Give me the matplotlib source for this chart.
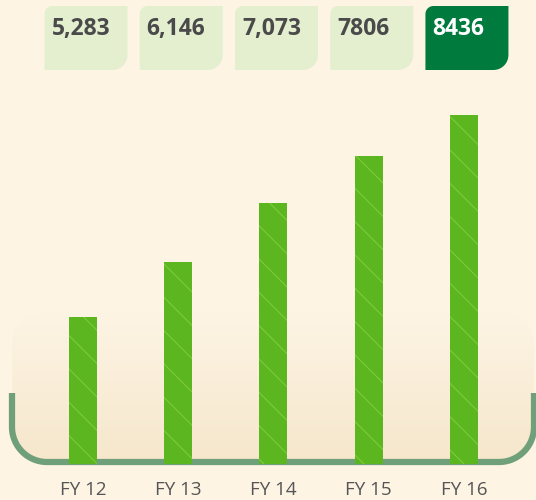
import numpy as np
import matplotlib.pyplot as plt
from matplotlib.path import Path
from matplotlib.patches import PathPatch, FancyBboxPatch

# Data
years = ['FY 12', 'FY 13', 'FY 14', 'FY 15', 'FY 16']
values = [5283, 6146, 7073, 7806, 8436]
value_labels = ['5,283', '6,146', '7,073', '7806', '8436']

# Colours
bg_color = '#FDF4E4'
panel_bottom = np.array([246, 231, 204]) / 255
panel_top = np.array([253, 244, 228]) / 255
border_color = '#70A07A'
bar_color = '#5BB620'
vein_color = '#7CCB3C'
box_light = '#E3EFCF'
box_dark = '#007A3D'
text_dark = '#4A4A4A'
tick_color = '#555555'

plt.rcParams['hatch.linewidth'] = 0.8

W, H = 536, 500
fig = plt.figure(figsize=(W / 100, H / 100), dpi=100, facecolor=bg_color)

# Background axes in pixel units (y grows downwards)
bg = fig.add_axes([0, 0, 1, 1], zorder=0)
bg.axis('off')

# Bar axes
ax = fig.add_axes([0.066, 0.072, 0.8884, 0.748], zorder=1)
ax.patch.set_alpha(0)
x = np.arange(len(years))
bars = ax.bar(x, values, width=0.294, color=bar_color, hatch='\\',
              edgecolor=vein_color, linewidth=0, zorder=3)
ax.set_xlim(-0.5, len(years) - 0.5)
ax.set_ylim(3000, 8828)
ax.set_yticks([])
ax.set_xticks(x)
ax.set_xticklabels(years, fontsize=13.5, color=tick_color, family='Open Sans')
ax.tick_params(axis='x', length=0, pad=12)
for s in ax.spines.values():
    s.set_visible(False)

# Gradient panel behind the bars
panel = FancyBboxPatch((12, 313), 522, 149,
                       boxstyle='round,pad=0,rounding_size=35',
                       facecolor='none', edgecolor='none')
bg.add_patch(panel)
grad = np.linspace(0, 1, 256)[:, None, None]
img = panel_top * (1 - grad) + panel_bottom * grad
im = bg.imshow(img, extent=(12, 534, 462, 313), aspect='auto', zorder=1)
im.set_clip_path(panel)
bg.set_xlim(0, W)
bg.set_ylim(H, 0)

# Rounded border line (left, bottom, right)
r = 35
t1 = np.linspace(np.pi, np.pi / 2, 30)
t2 = np.linspace(np.pi / 2, 0, 30)
left_arc = np.c_[12 + r + r * np.cos(t1), 462 - r + r * np.sin(t1)]
right_arc = np.c_[534 - r + r * np.cos(t2), 462 - r + r * np.sin(t2)]
pts = np.vstack([[12, 393], left_arc, right_arc, [534, 393]])
bg.plot(pts[:, 0], pts[:, 1], color=border_color, lw=4.5,
        solid_capstyle='butt', zorder=2)


def leaf_box(x0, y0, x1, y1, r1=8, r2=15):
    a1 = np.linspace(np.pi, 1.5 * np.pi, 12)
    a2 = np.linspace(0, 0.5 * np.pi, 12)
    tl = np.c_[x0 + r1 + r1 * np.cos(a1), y0 + r1 + r1 * np.sin(a1)]
    br = np.c_[x1 - r2 + r2 * np.cos(a2), y1 - r2 + r2 * np.sin(a2)]
    verts = np.vstack([tl, [x1, y0], br, [x0, y1], tl[:1]])
    return Path(verts, closed=True)


# Value boxes above each bar
fig.canvas.draw()
for i, (lab, v) in enumerate(zip(value_labels, values)):
    cx = ax.transData.transform((x[i], 0))[0] + 3
    x0, x1 = cx - 41.5, cx + 41.5
    last = i == len(values) - 1
    face = box_dark if last else box_light
    bg.add_patch(PathPatch(leaf_box(x0, 6, x1, 70), facecolor=face,
                           edgecolor='none', zorder=3))
    bg.text(x0 + 7, 29, lab, fontsize=16.5, fontweight='bold',
            family='Open Sans', color='white' if last else text_dark,
            ha='left', va='center', zorder=4)

fig.savefig('out.png', dpi=100, facecolor=bg_color)
